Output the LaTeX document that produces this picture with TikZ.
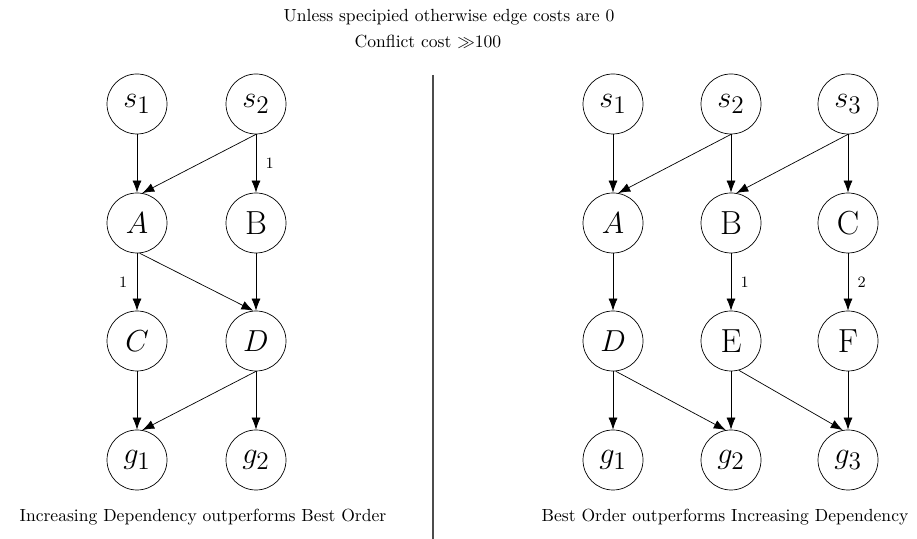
\documentclass[tikz,border=0pt]{standalone}
\usetikzlibrary{arrows.meta}
\begin{document}
\begin{tikzpicture}[
    vertex/.style={draw, circle, minimum size=1.2cm, inner sep=0pt, font=\fontsize{19}{23}\selectfont},
    edge/.style={-{Latex[length=2.4mm,width=1.8mm]}},
    cost/.style={font=\small, midway}
]
    \useasboundingbox (0,0) rectangle (18.34,10.78);

    % Header notes
    \node (note) at (8.98,10.44) {Unless specipied otherwise edge costs are 0};
    \node (conflict) at (8.56,9.94) {Conflict cost $\gg$100};

    % Divider
    \coordinate (divtop) at (8.66,9.28);
    \coordinate (divbot) at (8.66,0);
    \draw[black!70, line width=0.6pt] (divtop) -- (divbot);

    % Left graph
    \node[vertex] (ls1) at (2.74,8.70) {$s_1$};
    \node[vertex] (ls2) at (5.12,8.70) {$s_2$};
    \node[vertex] (lA)  at (2.74,6.32) {$A$};
    \node[vertex] (lB)  at (5.12,6.32) {B};
    \node[vertex] (lC)  at (2.74,3.96) {$C$};
    \node[vertex] (lD)  at (5.12,3.96) {$D$};
    \node[vertex] (lg1) at (2.74,1.58) {$g_1$};
    \node[vertex] (lg2) at (5.12,1.58) {$g_2$};

    \draw[edge] (ls1.south) -- (lA.north);
    \draw[edge] (ls2.south) -- (lA.80);
    \draw[edge] (ls2.south) -- node[cost, right=2pt] {1} (lB.north);
    \draw[edge] (lA.south) -- node[cost, left=2pt] {1} (lC.north);
    \draw[edge] (lA.-85) -- (lD.95);
    \draw[edge] (lB.south) -- (lD.north);
    \draw[edge] (lC.south) -- (lg1.north);
    \draw[edge] (lD.south) -- (lg1.80);
    \draw[edge] (lD.south) -- (lg2.north);

    \node (lcap) at (4.06,0.44) {Increasing Dependency outperforms Best Order};

    % Right graph
    \node[vertex] (rs1) at (12.26,8.70) {$s_1$};
    \node[vertex] (rs2) at (14.62,8.70) {$s_2$};
    \node[vertex] (rs3) at (16.96,8.70) {$s_3$};
    \node[vertex] (rA)  at (12.26,6.32) {$A$};
    \node[vertex] (rB)  at (14.62,6.32) {B};
    \node[vertex] (rC)  at (16.96,6.32) {C};
    \node[vertex] (rD)  at (12.26,3.96) {$D$};
    \node[vertex] (rE)  at (14.62,3.96) {E};
    \node[vertex] (rF)  at (16.96,3.96) {F};
    \node[vertex] (rg1) at (12.26,1.58) {$g_1$};
    \node[vertex] (rg2) at (14.62,1.58) {$g_2$};
    \node[vertex] (rg3) at (16.96,1.58) {$g_3$};

    \draw[edge] (rs1.south) -- (rA.north);
    \draw[edge] (rs2.south) -- (rA.80);
    \draw[edge] (rs2.south) -- (rB.north);
    \draw[edge] (rs3.south) -- (rB.80);
    \draw[edge] (rs3.south) -- (rC.north);
    \draw[edge] (rA.south) -- (rD.north);
    \draw[edge] (rB.south) -- node[cost, right=2pt] {1} (rE.north);
    \draw[edge] (rC.south) -- node[cost, right=2pt] {2} (rF.north);
    \draw[edge] (rD.south) -- (rg1.north);
    \draw[edge] (rD.-85) -- (rg2.100);
    \draw[edge] (rE.south) -- (rg2.north);
    \draw[edge] (rE.-75) -- (rg3.100);
    \draw[edge] (rF.south) -- (rg3.north);

    \node (rcap) at (14.5,0.44) {Best Order outperforms Increasing Dependency};
\end{tikzpicture}
\end{document}
